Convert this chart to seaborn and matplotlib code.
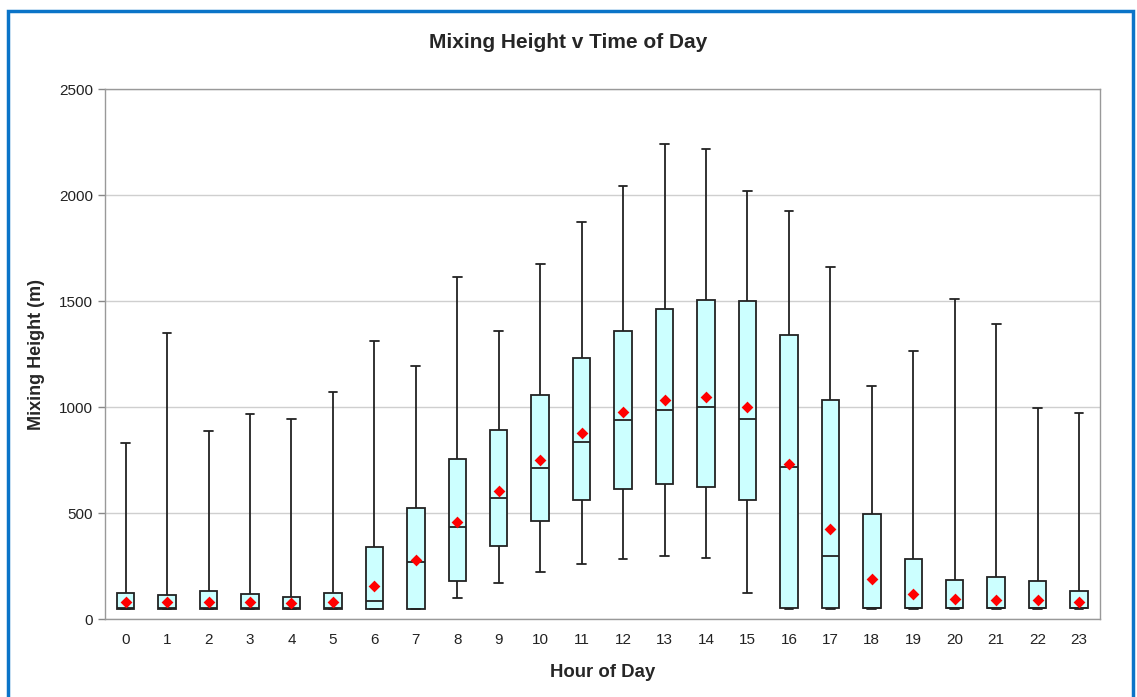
import numpy as np
import pandas as pd
import matplotlib
matplotlib.use("Agg")
import matplotlib.pyplot as plt
import seaborn as sns
from matplotlib.patches import Rectangle

# Five-number summaries per hour
hours = list(range(24))
whisker_low = [48, 48, 48, 48, 48, 48, 48, 48, 100, 170, 222, 261, 285, 297,
               286, 124, 48, 48, 48, 48, 48, 48, 48, 48]
q1 = [48, 48, 48, 48, 48, 48, 48, 48, 178, 344, 462, 561, 615, 635,
      624, 563, 50, 50, 50, 50, 50, 50, 50, 50]
median = [50, 50, 50, 50, 50, 50, 85, 269, 434, 571, 712, 836, 937, 984,
          998, 943, 718, 296, 52, 52, 50, 50, 50, 50]
q3 = [121, 113, 130, 118, 105, 121, 338, 523, 755, 892, 1057, 1231, 1358, 1460,
      1505, 1500, 1340, 1032, 497, 285, 186, 197, 179, 131]
whisker_high = [830, 1350, 887, 967, 943, 1071, 1311, 1193, 1613, 1358, 1675, 1873,
                2042, 2240, 2217, 2019, 1925, 1660, 1099, 1264, 1509, 1392, 995, 972]
mean = [79, 82, 79, 82, 75, 79, 154, 277, 457, 604, 750, 877, 976, 1033,
        1046, 998, 731, 426, 189, 118, 93, 90, 90, 82]

# long table: with 5 points, 25/50/75th percentiles land exactly on q1/median/q3
rows = []
for i, h in enumerate(hours):
    for v in (whisker_low[i], q1[i], median[i], q3[i], whisker_high[i]):
        rows.append({"hour": h, "height": v})
df = pd.DataFrame(rows)
means_df = pd.DataFrame({"hour": hours, "mean": mean})

sns.set_style("white")
plt.rcParams["font.family"] = ["Liberation Sans", "DejaVu Sans"]

fig = plt.figure(figsize=(11.37, 6.97), dpi=100)
ax = fig.add_axes([0.0923, 0.1119, 0.875, 0.7604])

ax.yaxis.grid(True, color="#cfcfcf", linewidth=1)
ax.set_axisbelow(True)

sns.boxplot(data=df, x="hour", y="height", order=hours, whis=(0, 100),
            width=0.42, color="#CCFFFF", fliersize=0, linecolor="#222222",
            linewidth=1.3, saturation=1, ax=ax,
            medianprops=dict(color="#222222", linewidth=1.3))
sns.stripplot(data=means_df, x="hour", y="mean", order=hours, jitter=False,
              marker="D", color="#FF0000", size=6, linewidth=0, ax=ax, zorder=5)

ax.set_xlim(-0.5, 23.5)
ax.set_ylim(0, 2500)
ax.set_yticks(np.arange(0, 2501, 500))
ax.set_xticks(range(24))
ax.set_xticklabels([str(h) for h in hours])
ax.set_xticks(np.arange(-0.5, 24, 1), minor=True)
ax.tick_params(axis="x", which="major", length=0, pad=10, labelsize=11, colors="#222222")
ax.tick_params(axis="x", which="minor", length=5, width=1, color="#888888", direction="out")
ax.tick_params(axis="y", length=5, width=1, color="#888888", labelsize=11,
               labelcolor="#222222", left=True, direction="out")

for s in ax.spines.values():
    s.set_color("#999999")
    s.set_linewidth(1)

ax.set_xlabel("Hour of Day", fontsize=13.4, fontweight="bold", labelpad=12)
ax.set_ylabel("Mixing Height (m)", fontsize=13, fontweight="bold", labelpad=10)
fig.text(0.5, 1 - 42 / 697, "Mixing Height v Time of Day", fontsize=15,
         fontweight="bold", ha="center", va="center")

# blue frame around the chart
fig.patches.append(Rectangle((8 / 1137, -0.02), 1125 / 1137, 1 - 11 / 697 + 0.02,
                             transform=fig.transFigure, fill=False,
                             edgecolor="#0A74C8", linewidth=2.5))

fig.savefig("out.png", dpi=100)
